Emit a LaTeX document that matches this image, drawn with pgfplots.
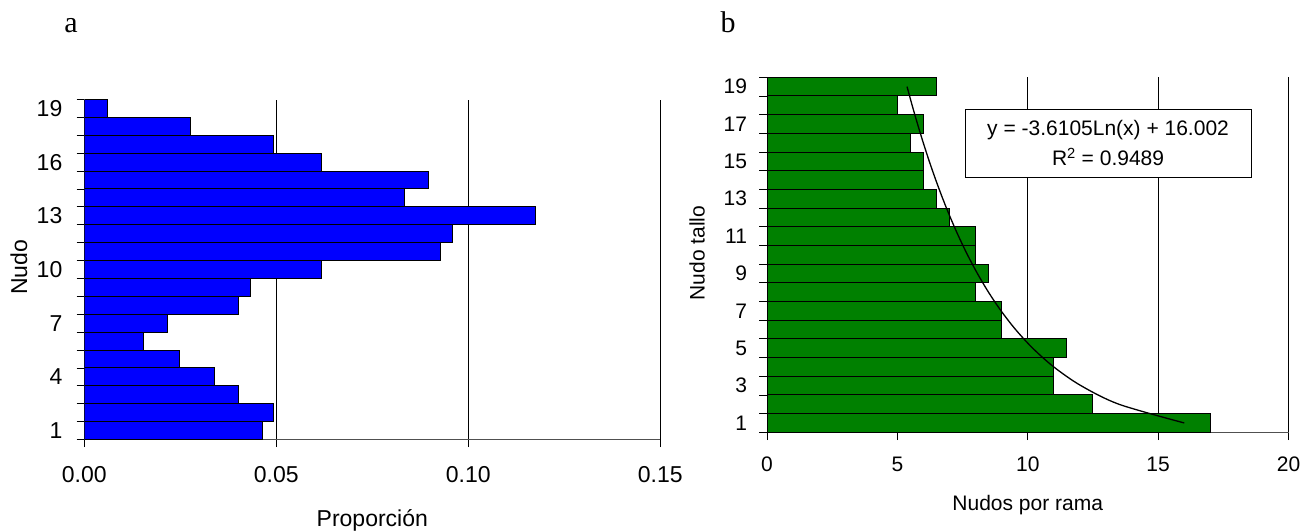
\documentclass[border=0pt]{standalone}
\usepackage{pgfplots}
\pgfplotsset{compat=1.18}
\usepackage{fontspec}
\setmainfont{Liberation Sans}
\newfontfamily\serifabc{Liberation Serif}
\definecolor{barblue}{RGB}{0,0,255}
\definecolor{bargreen}{RGB}{0,128,0}
\definecolor{axgray}{RGB}{80,80,80}

\pgfplotsset{
  excelstyle/.style={
    scale only axis,
    axis lines=left,
    axis line style={-, draw=axgray, line width=1pt},
    tick align=outside,
    major tick length=7.7pt,
    minor tick length=7.7pt,
    tick style={black, line width=0.8pt},
    major y tick style={draw=none},
    xmajorgrids,
    grid style={black, line width=0.9pt},
    ymin=0.5, ymax=19.5,
    minor ytick={0.5,1.5,2.5,3.5,4.5,5.5,6.5,7.5,8.5,9.5,10.5,11.5,12.5,13.5,14.5,15.5,16.5,17.5,18.5,19.5},
    /pgf/number format/assume math mode=true,
    scaled x ticks=false,
    every tick label/.append style={inner sep=0pt, outer sep=0pt},
  }
}

\begin{document}
\begin{tikzpicture}
\useasboundingbox (0pt,0pt) rectangle (1304pt,531pt);

% ---------- panel a ----------
\begin{axis}[excelstyle,
  at={(84.3pt,91.5pt)}, anchor=south west,
  width=576pt, height=340pt,
  xmin=0, xmax=0.15,
  xtick={0,0.05,0.1,0.15},
  xticklabels={0.00,0.05,0.10,0.15},
  ytick={1,4,7,10,13,16,19},
  tick label style={font=\fontsize{23}{27}\selectfont},
  yticklabel style={xshift=-14.3pt},
  xticklabel style={yshift=-19.6pt},
  xlabel={Proporción},
  ylabel={Nudo},
  every axis x label/.style={at={(axis description cs:0.5,-0.256)}, anchor=base, font=\fontsize{23}{27}\selectfont},
  every axis y label/.style={at={(axis description cs:-0.1134,0.507)}, anchor=center, rotate=90, font=\fontsize{23}{27}\selectfont},
]
\addplot[xbar, bar width=1, bar shift=0, fill=barblue, draw=black, line width=1pt] coordinates {
  (0.0465,1) (0.0494,2) (0.0402,3) (0.0340,4) (0.0248,5) (0.0155,6) (0.0216,7)
  (0.0402,8) (0.0432,9) (0.0618,10) (0.0927,11) (0.0958,12) (0.1174,13)
  (0.0833,14) (0.0897,15) (0.0618,16) (0.0494,17) (0.0277,18) (0.0061,19)
};
\end{axis}

% ---------- panel b ----------
\begin{axis}[excelstyle,
  at={(767pt,98.7pt)}, anchor=south west,
  width=521.5pt, height=355pt,
  xmin=0, xmax=20,
  xtick={0,5,10,15,20},
  ytick={1,3,5,7,9,11,13,15,17,19},
  tick label style={font=\fontsize{21}{25}\selectfont},
  yticklabel style={xshift=-12.3pt},
  xticklabel style={yshift=-16.7pt},
  xlabel={Nudos por rama},
  ylabel={Nudo tallo},
  every axis x label/.style={at={(axis description cs:0.5,-0.219)}, anchor=base, font=\fontsize{21}{25}\selectfont},
  every axis y label/.style={at={(axis description cs:-0.134,0.505)}, anchor=center, rotate=90, font=\fontsize{21}{25}\selectfont},
]
\addplot[xbar, bar width=1, bar shift=0, fill=bargreen, draw=black, line width=1pt] coordinates {
  (17.0,1) (12.5,2) (11.0,3) (11.0,4) (11.5,5) (9.0,6) (9.0,7) (8.0,8) (8.5,9)
  (8.0,10) (8.0,11) (7.0,12) (6.5,13) (6.0,14) (6.0,15) (5.5,16) (6.0,17) (5.0,18) (6.5,19)
};
\addplot[smooth, black, line width=1.3pt] coordinates {
  (16.002,1) (13.499,2) (12.036,3) (10.997,4) (10.191,5) (9.533,6) (8.976,7)
  (8.494,8) (8.069,9) (7.688,10) (7.344,11) (7.030,12) (6.741,13) (6.474,14)
  (6.224,15) (5.992,16) (5.773,17) (5.566,18) (5.371,19)
};
\node[draw=black, line width=1pt, fill=white, align=center, minimum width=286pt,
      minimum height=68pt, inner sep=0pt, font=\fontsize{21}{30}\selectfont]
  at (axis cs:13.08,15.97) {y = -3.6105Ln(x) + 16.002\\R\textsuperscript{2} = 0.9489};
\end{axis}

\node[anchor=base, font=\serifabc\fontsize{30}{30}\selectfont] at (71pt,498pt) {a};
\node[anchor=base, font=\serifabc\fontsize{30}{30}\selectfont] at (728pt,498pt) {b};
\end{tikzpicture}
\end{document}
